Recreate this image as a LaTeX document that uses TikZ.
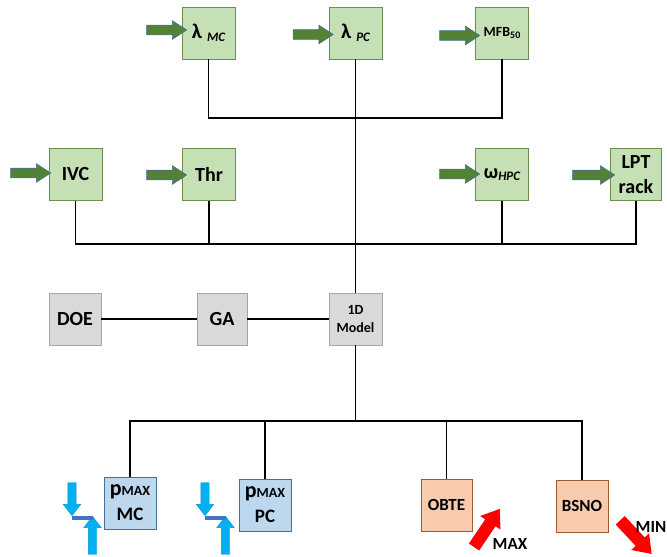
\documentclass[tikz,border=0pt]{standalone}
\usepackage{fontspec}
\setmainfont{Carlito}
\usetikzlibrary{shapes.arrows}
\definecolor{boxgreen}{HTML}{C5E0B4}
\definecolor{edgegreen}{HTML}{6A8F4F}
\definecolor{arrowgreen}{HTML}{548235}
\definecolor{boxgray}{HTML}{D9D9D9}
\definecolor{edgegray}{HTML}{A6A6A6}
\definecolor{boxblue}{HTML}{BDD7EE}
\definecolor{edgeblue}{HTML}{41719C}
\definecolor{boxorange}{HTML}{F8CBAD}
\definecolor{edgeorange}{HTML}{9E5B2B}
\definecolor{arrowblue}{HTML}{00B0F0}
\definecolor{barblue}{HTML}{4472C4}
\begin{document}
\begin{tikzpicture}[x=1pt,y=-1pt,
  blk/.style={draw,rectangle,inner sep=0pt,minimum width=53pt,minimum height=52pt,align=center,font=\bfseries\fontsize{20}{25}\selectfont,line width=0.8pt},
  inblk/.style={blk,fill=boxgreen,draw=edgegreen},
  simblk/.style={blk,fill=boxgray,draw=edgegray},
  pblk/.style={blk,fill=boxblue,draw=edgeblue},
  objblk/.style={blk,fill=boxorange,draw=edgeorange,font=\bfseries\fontsize{17}{20}\selectfont},
  garrow/.style={single arrow,fill=arrowgreen,draw=edgeblue,line width=0.6pt,minimum height=40pt,inner xsep=0pt,inner ysep=4.5pt,single arrow head extend=4.5pt,single arrow tip angle=66},
  barrow/.style={single arrow,fill=arrowblue,draw=arrowblue!85!black,line width=0.4pt,inner xsep=0pt,inner ysep=4pt,single arrow head extend=4.5pt,single arrow tip angle=75},
  rarrow/.style={single arrow,fill=red,minimum height=46pt,inner xsep=0pt,inner ysep=6pt,single arrow head extend=6pt,single arrow tip angle=72},
  link/.style={line width=1.2pt}]
\useasboundingbox (0,0) rectangle (667,557);
\node[inblk] (lmc) at (208.5,33) {{\fontsize{21}{21}\selectfont λ}\hspace{5pt}\raisebox{-3pt}{\fontsize{13}{13}\selectfont\itshape MC}};
\node[inblk] (lpc) at (355.5,33) {{\fontsize{21}{21}\selectfont λ}\hspace{5pt}\raisebox{-3pt}{\fontsize{13}{13}\selectfont\itshape PC}};
\node[inblk] (mfb) at (502,33) {\fontsize{14}{14}\selectfont MFB\raisebox{-2pt}{\fontsize{10}{10}\selectfont 50}};
\node[inblk] (ivc) at (75.5,174.5) {IVC};
\node[inblk] (thr) at (209,174.5) {Thr};
\node[inblk] (whpc) at (502,174.5) {ω\raisebox{-2pt}{\fontsize{13}{13}\selectfont\itshape HPC}};
\node[inblk,minimum width=51pt] (lpt) at (636,174.5) {LPT\\rack};
\node[simblk,minimum width=52pt] (doe) at (75,319) {DOE};
\node[simblk,minimum width=50pt] (ga) at (222,319) {GA};
\node[simblk,font=\bfseries\fontsize{14}{18}\selectfont] (model) at (355.5,319) {1D\\Model};
\node[pblk,minimum width=52pt] (pmc) at (130,503) {{\fontsize{22}{22}\selectfont p}{\fontsize{14}{14}\selectfont MAX}\\{\fontsize{19}{19}\selectfont MC}};
\node[pblk,minimum width=52pt] (ppc) at (265,505) {{\fontsize{22}{22}\selectfont p}{\fontsize{14}{14}\selectfont MAX}\\{\fontsize{19}{19}\selectfont PC}};
\node[objblk,minimum width=51pt] (obte) at (446.5,505) {OBTE};
\node[objblk,minimum width=52pt] (bsno) at (582,506) {BSNO};
\node[garrow] (almc) at (163,30) {};
\node[garrow] (alpc) at (309.5,34.5) {};
\node[garrow] (amfb) at (456,35.5) {};
\node[garrow] (aivc) at (27,173) {};
\node[garrow] (athr) at (163,175) {};
\node[garrow] (awhpc) at (456,174) {};
\node[garrow,minimum height=42pt] (alpt) at (590,175) {};
\node[barrow,minimum height=33pt,rotate=-90] (dmc) at (72,496.5) {};
\node[barrow,minimum height=38pt,rotate=90] (umc) at (92.5,538) {};
\fill[barblue] (72,516) rectangle (93,520);
\node[barrow,minimum height=33pt,rotate=-90] (dpc) at (205,496.5) {};
\node[barrow,minimum height=38pt,rotate=90] (upc) at (225.5,538) {};
\fill[barblue] (205,516) rectangle (226,520);
\node[rarrow,rotate=56] (amax) at (484.5,531.5) {};
\node[rarrow,rotate=-47] (amin) at (633,534) {};
\node[font=\bfseries\fontsize{17}{17}\selectfont] (tmax) at (510,544) {MAX};
\node[font=\bfseries\fontsize{17}{17}\selectfont,anchor=east,inner sep=0pt] (tmin) at (666.5,527) {MIN};
\coordinate (top) at (355.5,118);
\coordinate (mid) at (355.5,244);
\coordinate (low) at (355.5,421);
\draw[link] (lmc.south) |- (top) -| (mfb.south);
\draw[link] (lpc.south) -- (model.north);
\draw[link] (ivc.south) |- (mid) -| (lpt.south);
\draw[link] (thr.south) -- (thr.south |- mid);
\draw[link] (whpc.south) -- (whpc.south |- mid);
\draw[link] (doe) -- (ga);
\draw[link] (ga) -- (model);
\draw[link] (model.south) -- (low);
\draw[link] (pmc.north) |- (low) -| (bsno.north);
\draw[link] (ppc.north) -- (ppc.north |- low);
\draw[link] (obte.north) -- (obte.north |- low);
\end{tikzpicture}
\end{document}
